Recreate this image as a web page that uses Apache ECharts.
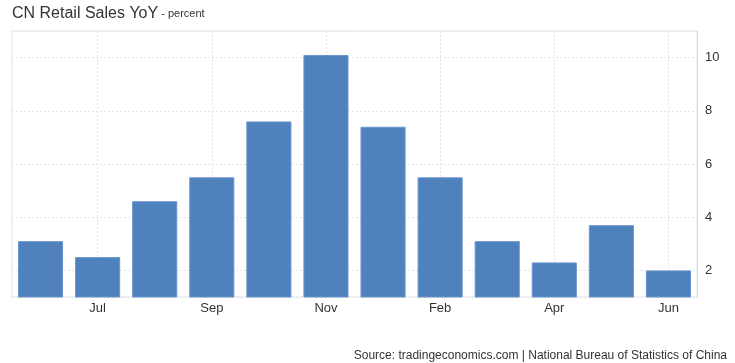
<!DOCTYPE html>
<html>
<head>
<meta charset="utf-8">
<script src="https://cdn.jsdelivr.net/npm/echarts@6/dist/echarts.min.js"></script>
<style>
html,body{margin:0;padding:0;background:#fff;}
#chart{width:735px;height:363px;}
</style>
</head>
<body>
<div id="chart"></div>
<script>
var categories = ['Jun','Jul','Aug','Sep','Oct','Nov','Dec','Feb','Mar','Apr','May','Jun'];
var values = [3.1, 2.5, 4.6, 5.5, 7.6, 10.1, 7.4, 5.5, 3.1, 2.3, 3.7, 2.0];
var labelIndices = [1, 3, 5, 7, 9, 11];

var chart = echarts.init(document.getElementById('chart'));
var FONT = '"Liberation Sans", Arial, Helvetica, sans-serif';
chart.setOption({
  animation: false,
  backgroundColor: '#fff',
  title: [{
    text: '{a|CN Retail Sales YoY}{b| - percent}',
    left: 7, top: 1,
    textStyle: {
      rich: {
        a: {fontSize: 16, color: '#333', fontWeight: 'normal', fontFamily: FONT},
        b: {fontSize: 11, color: '#333', fontWeight: 'normal', fontFamily: FONT}
      }
    }
  }, {
    text: 'Source: tradingeconomics.com | National Bureau of Statistics of China',
    right: 3, top: 345,
    textStyle: {fontSize: 12, color: '#333', fontWeight: 'normal', fontFamily: FONT}
  }],
  grid: {
    left: 12, right: 38, top: 31, bottom: 66,
    show: true, borderColor: '#e3e3e3', borderWidth: 1
  },
  xAxis: {
    type: 'category',
    data: categories,
    axisLine: {show: false},
    axisTick: {show: false},
    splitLine: {show: false},
    axisLabel: {
      interval: function (i) { return labelIndices.indexOf(i) >= 0; },
      color: '#333', fontSize: 13, fontFamily: FONT, margin: 5
    }
  },
  yAxis: {
    type: 'value',
    position: 'right',
    min: 1, max: 11,
    axisLine: {show: true, lineStyle: {color: '#dcdcdc'}},
    axisTick: {show: false},
    splitLine: {show: true, lineStyle: {color: '#e3e3e3', type: [2, 2]}},
    axisLabel: {
      showMinLabel: false, showMaxLabel: false,
      formatter: function (v) { return (v === 1 || v === 11) ? '' : String(v); },
      color: '#333', fontSize: 13, fontFamily: FONT, margin: 8
    }
  },
  series: [{
    type: 'bar',
    data: values,
    barCategoryGap: '21%',
    itemStyle: {color: '#4f81bd', borderColor: '#6a95cb', borderWidth: 1},
    markLine: {
      silent: true,
      z: 1,
      symbol: ['none', 'none'],
      label: {show: false},
      lineStyle: {color: '#e3e3e3', type: [2, 2], width: 1},
      data: labelIndices.map(function (i) { return {xAxis: i}; })
    }
  }]
});
</script>
</body>
</html>
